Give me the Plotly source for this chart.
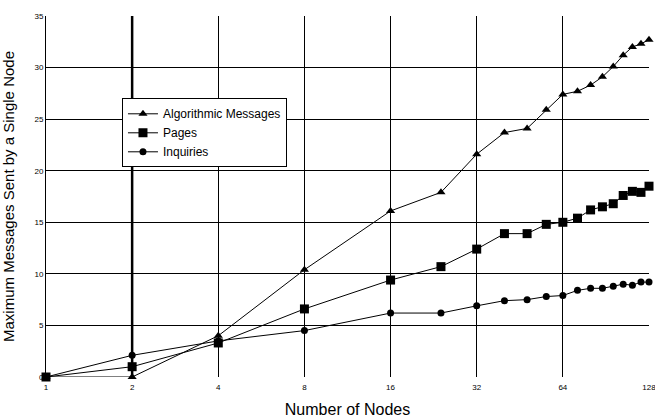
import plotly.graph_objects as go

nodes = [1, 2, 4, 8, 16, 24, 32, 40, 48, 56, 64, 72, 80, 88, 96, 104, 112, 120, 128]
algorithmic = [0, 0, 4.0, 10.4, 16.1, 17.9, 21.6, 23.7, 24.1, 25.9, 27.4, 27.7, 28.3, 29.1, 30.1, 31.2, 32.0, 32.3, 32.7]
pages = [0, 1.0, 3.3, 6.6, 9.4, 10.7, 12.4, 13.9, 13.9, 14.8, 15.0, 15.4, 16.2, 16.5, 16.8, 17.6, 18.0, 17.9, 18.5]
inquiries = [0, 2.1, 3.5, 4.5, 6.2, 6.2, 6.9, 7.4, 7.5, 7.8, 7.9, 8.4, 8.6, 8.6, 8.8, 9.0, 8.9, 9.2, 9.2]
x_ticks = [1, 2, 4, 8, 16, 32, 64, 128]
y_ticks = [0, 5, 10, 15, 20, 25, 30, 35]

font = "Liberation Sans, Arial, sans-serif"
fig = go.Figure()
series = [("Algorithmic Messages", algorithmic, "triangle-up", 8),
          ("Pages", pages, "square", 9),
          ("Inquiries", inquiries, "circle", 7)]
for name, vals, sym, sz in series:
    fig.add_trace(go.Scatter(x=nodes, y=vals, name=name, mode="lines+markers",
                             line=dict(color="black", width=1),
                             marker=dict(symbol=sym, size=sz, color="black"),
                             cliponaxis=False))

fig.add_shape(type="line", xref="x", yref="paper", x0=2, x1=2, y0=0, y1=1,
              line=dict(color="black", width=2.5), layer="below")

fig.update_layout(
    width=655, height=419,
    margin=dict(l=46, r=6, t=16, b=42),
    paper_bgcolor="white", plot_bgcolor="white",
    font=dict(family=font, color="black"),
    showlegend=True,
    legend=dict(x=0.126, y=0.772, xanchor="left", yanchor="top",
                bgcolor="white", bordercolor="black", borderwidth=1,
                font=dict(size=12, family=font), tracegroupgap=0,
                itemwidth=30),
    xaxis=dict(type="log", range=[0, 2.10721], tickvals=x_ticks,
               ticktext=[str(v) for v in x_ticks], automargin=False,
               ticklabeloverflow="allow", ticklabelstandoff=4,
               showgrid=True, gridcolor="black", gridwidth=1,
               showline=False, zeroline=False, ticks="",
               tickfont=dict(size=8, family=font, color="black"),
               title=dict(text="Number of Nodes", font=dict(size=16, family=font), standoff=12)),
    yaxis=dict(range=[0, 35], tickvals=y_ticks, automargin=False,
               showgrid=True, gridcolor="black", gridwidth=1,
               showline=True, linecolor="black", linewidth=1, zeroline=False,
               ticks="", tickfont=dict(size=8, family=font, color="black"),
               title=dict(text="Maximum Messages Sent by a Single Node", font=dict(size=15, family=font), standoff=18)),
)

fig.write_html("out.html", config={"displayModeBar": False},
               post_script="document.body.style.margin='0';")
